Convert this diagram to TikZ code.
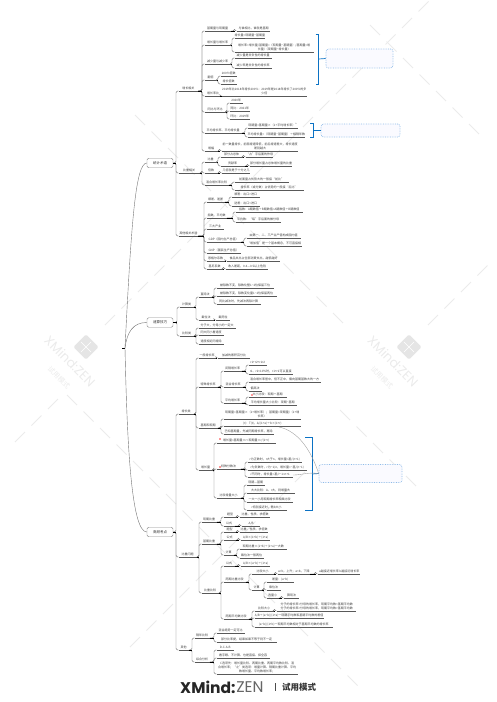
\documentclass[tikz,border=0pt]{standalone}
\usepackage{fontspec}
\setmainfont{Noto Sans CJK SC}
\newfontfamily\brandfont{Poppins}
\usetikzlibrary{positioning,arrows.meta}
\definecolor{markblue}{HTML}{0B72C4}
\definecolor{noteblue}{HTML}{8FBBE8}

\begin{document}
\begin{tikzpicture}[
  x=1pt, y=-1pt,
  font=\fontsize{3}{3.8}\selectfont,
  topic/.style={anchor=south west, inner xsep=0pt, inner ysep=1.1pt, align=center, text=black!75,
                append after command={(\tikzlastnode.south west) edge[draw=black!65, line width=0.45pt] (\tikzlastnode.south east)}},
  branch/.style={rectangle, rounded corners=1.5pt, draw=black!45, line width=0.4pt, fill=white,
                 minimum width=26pt, minimum height=9.5pt, inner sep=0pt, text=black!80,
                 font=\fontsize{3.5}{4}\selectfont},
  edge/.style={draw=black!55, line width=0.4pt, rounded corners=1.5pt},
  stub/.style={draw=black, line width=0.6pt},
  flag/.style={rectangle, fill=red!40, minimum size=2pt, inner sep=0pt},
  note/.style={rectangle, rounded corners=2.5pt, draw=noteblue, densely dotted, line width=0.7pt, fill=blue!2},
  brace/.style={draw=markblue, line width=0.7pt},
  rel/.style={draw=black!40, line width=0.35pt},
  wmark/.style={draw=black!8, line width=0.8pt}
]
\useasboundingbox (0,0) rectangle (497,702);

% watermark
\foreach \k/\xa/\xb in {-20/135/345, 328/67/350, -345/370/480, 70/340/420} {
  \foreach \u in {0,16.5,...,330} {
    \pgfmathparse{\xa+\u<=\xb ? 1 : 0}
    \ifnum\pgfmathresult=1 \draw[wmark] ({\xa+\u},{\xa+\u+\k}) -- ++(10,10); \fi
  }
}
\foreach \k/\xa/\xb in {430/105/420, 753/428/480, 777/130/300, 457/15/60} {
  \foreach \u in {0,16.5,...,330} {
    \pgfmathparse{\xa+\u<=\xb ? 1 : 0}
    \ifnum\pgfmathresult=1 \draw[wmark] ({\xa+\u},{\k-\xa-\u}) -- ++(10,-10); \fi
  }
}
\foreach \lx in {86,409} {
  \node[rectangle, rounded corners=1.5pt, fill=black!10, minimum size=18pt, rotate=45] at (\lx,347) {};
  \draw[white, line width=0.5pt] ({\lx-5},342) -- ({\lx+5},352) ({\lx-5},352) -- ({\lx+5},342);
  \node[text=black!8, rotate=-45, font=\brandfont\fontsize{13}{13}\selectfont] at ({\lx-16},361) {XMind:ZEN};
  \node[text=black!8, rotate=-45, font=\fontsize{7}{7}\selectfont] at ({\lx-27},378) {试用模式};
}

\coordinate (root) at (125,348);
\node[branch] (a) at (160,163) {统计术语};
\node[branch] (b) at (160,322.5) {速算技巧};
\node[branch] (c) at (160,532) {高频考点};

% 统计术语
\node[topic, minimum width=19.5pt] (a1) at (178.5,91) {增长相关};
\node[topic, minimum width=26pt] (a11) at (204.5,31) {基期量与现期量};
\node[topic, minimum width=33pt] (a111) at (237,31) {与谁相比，谁就是基期};
\node[topic, minimum width=26pt] (a12) at (204.5,45) {增长量与增长率};
\node[topic, minimum width=29pt] (a121) at (234.5,38) {增长量=现期量−基期量};
\node[topic, minimum width=79pt] (a122) at (234.5,52) {增长率=增长量/基期量=（现期量−基期量）/基期量=增\\长量/（现期量−增长量）};
\node[topic, minimum width=26pt] (a13) at (204.5,64) {减少量与减少率};
\node[topic, minimum width=37pt] (a131) at (234.5,58) {减少量是非负性的增长量};
\node[topic, minimum width=37pt] (a132) at (234.5,68) {减少率是非负性的增长率};
\node[topic, minimum width=12pt] (a14) at (204.5,80) {翻倍};
\node[topic, minimum width=16pt] (a141) at (220.5,76) {200\%倍数};
\node[topic, minimum width=16pt] (a142) at (220.5,84) {增长倍数};
\node[topic, minimum width=17pt] (a15) at (204.5,96) {增长率比};
\node[topic, minimum width=83pt] (a151) at (222,96) {2019年比2018年增长200\%：2019年是2018年增长了200\%的多\\少倍};
\node[topic, minimum width=21pt] (a16) at (204.5,112) {同比与环比};
\node[topic, minimum width=13pt] (a161) at (229.5,103) {2020年};
\node[topic, minimum width=20pt] (a162) at (229.5,111) {同比：2021年};
\node[topic, minimum width=20pt] (a163) at (229.5,119) {环比：2019年};
\node[topic, minimum width=37pt] (a17) at (204.5,133) {平均增长率、平均增长量};
\node[topic, minimum width=50pt] (a171) at (247.5,128) {现期量=基期量×（1+平均增长率）\textsuperscript{n}};
\node[topic, minimum width=52pt] (a172) at (247.5,137) {平均增长量=（现期量−基期量）÷相隔年数};
\node[topic, minimum width=13pt] (a18) at (204.5,151) {增幅};
\node[topic, minimum width=76pt] (a181) at (222,151) {前一数量增长，前面增速降低，前后增速差大，增长速度\\差别越大};
\node[topic, minimum width=21pt] (a2) at (178.5,173) {比重相关};
\node[topic, minimum width=12pt] (a21) at (204.5,162) {比重};
\node[topic, minimum width=22pt] (a211) at (220.5,157) {部分占总体};
\node[topic, minimum width=26pt] (a2111) at (246,157) {“占”字后面的作母};
\node[topic, minimum width=24pt] (a212) at (220.5,166) {贡献率};
\node[topic, minimum width=34pt] (a2121) at (250,166) {部分增长量占总体增长量的比重};
\node[topic, minimum width=13pt] (a22) at (204.5,173) {倍数};
\node[topic, minimum width=28pt] (a221) at (222,173) {几倍就是于十分之几};
\node[topic, minimum width=24pt] (a23) at (204.5,185) {混合增长率比较};
\node[topic, minimum width=54pt] (a231) at (234.5,182) {前面量占优势大的一般接“前比”};
\node[topic, minimum width=69pt] (a232) at (234.5,190) {增长率（或分数）占优势的一般接“后比”};
\node[topic, minimum width=19.5pt] (a3) at (178.5,236) {其他相关术语};
\node[topic, minimum width=18pt] (a31) at (206.5,202) {顺差、逆差};
\node[topic, minimum width=28pt] (a311) at (231.5,197) {顺差：出口>进口};
\node[topic, minimum width=28pt] (a312) at (231.5,206) {逆差：出口<进口};
\node[topic, minimum width=20pt] (a32) at (206.5,218) {指数、平均数};
\node[topic, minimum width=67pt] (a321) at (235.5,212) {指数：A期数值÷B期数值=A期数值÷B期数值};
\node[topic, minimum width=45pt] (a322) at (235.5,222) {平均数：“每”字后面的做分母};
\node[topic, minimum width=17pt] (a33) at (206.5,229) {三大产业};
\node[topic, minimum width=34pt] (a34) at (206.5,242) {GDP（国内生产总值）};
\node[topic, minimum width=54pt] (a341) at (246.5,238) {由第一、二、三产业产值构成国内值};
\node[topic, minimum width=55pt] (a342) at (246.5,246) {“增加值”是一个基本概念，不可直接相};
\node[topic, minimum width=34pt] (a35) at (206.5,253) {GNP（国民生产总值）};
\node[topic, minimum width=18pt] (a36) at (206.5,261) {恩格尔系数};
\node[topic, minimum width=53pt] (a361) at (227,261) {食品支出占全部消费支出，越低越好};
\node[topic, minimum width=16pt] (a37) at (206.5,269) {基尼系数};
\node[topic, minimum width=42pt] (a371) at (226,269) {收入差距，0.4—0.5以上危险};

% 速算技巧
\node[topic, minimum width=14pt] (b1) at (179.5,307) {计算类};
\node[topic, minimum width=13pt] (b11) at (198.5,297) {直除法};
\node[topic, minimum width=57pt] (b111) at (216.5,288) {被除数不变，除数化整1\textasciitilde2位保留三位};
\node[topic, minimum width=60pt] (b112) at (216.5,296) {被除数不变，除数变化量1\textasciitilde2位保留两位};
\node[topic, minimum width=44pt] (b113) at (216.5,304) {同比减法时，先减法再除计算};
\node[topic, minimum width=15pt] (b12) at (198.5,320) {截位法};
\node[topic, minimum width=14pt] (b121) at (216,320) {截两位};
\node[topic, minimum width=14pt] (b2) at (179.5,336) {比较类};
\node[topic, minimum width=37pt] (b21) at (198.5,328) {分子大，分母小的一定大};
\node[topic, minimum width=25pt] (b22) at (198.5,335) {同大同小看速度};
\node[topic, minimum width=25pt] (b23) at (198.5,344) {速度相近同增除};

% 高频考点
\node[topic, minimum width=15pt] (c1) at (178.5,414) {增长类};
\node[topic, minimum width=17pt] (c11) at (198.5,358) {一般增长率};
\node[topic, minimum width=32pt] (c111) at (218,358) {加减的累积百分比};
\node[topic, minimum width=19pt] (c12) at (198.5,387) {特殊增长率};
\node[topic, minimum width=18pt] (c121) at (223.5,371) {间隔增长率};
\node[topic, minimum width=18pt] (c1211) at (248.5,365) {r1+r2+r1r2};
\node[topic, minimum width=44pt] (c1212) at (248.5,374) {r1、r2<10\%时，r1+r2可以直接};
\node[topic, minimum width=19pt] (c122) at (223.5,387) {混合增长率};
\node[topic, minimum width=72pt] (c1221) at (248.5,382) {混合增长率居中，但不正中，偏向基期基数大的一方};
\node[topic, minimum width=13pt] (c1222) at (248.5,391) {偏高法};
\node[topic, minimum width=18pt] (c123) at (223.5,403) {平均增长率};
\node[topic, minimum width=38pt] (c1231) at (248.5,397) {大小比较：现期÷基期};
\node[topic, minimum width=48pt] (c1232) at (248.5,405) {平均增长量大小比较：现期−基期};
\node[topic, minimum width=19pt] (c13) at (198.5,428) {基期和现期};
\node[topic, minimum width=77pt] (c131) at (223.5,419) {现期量=基期量×（1+增长率）；基期量=现期量/（1+增\\长率）};
\node[topic, minimum width=77pt] (c132) at (223.5,426) {(r)：T(t)，Δ/(1+a)÷b×(1+r)};
\node[topic, minimum width=50pt] (c133) at (223.5,434) {已知基期量，先减同期增长率，再除};
\node[topic, minimum width=14pt] (c14) at (198.5,470) {增长量};
\node[topic, minimum width=59pt] (c141) at (216.5,443) {增长量=基期量×r=现期量×r/(1+r)};
\node[topic, minimum width=24pt] (c142) at (216.5,469) {特殊分数法};
\node[topic, minimum width=54pt] (c1421) at (247.5,462) {r为正数时，r大于n，增长量=基/(n+1)};
\node[topic, minimum width=59pt] (c1422) at (247.5,470) {r为负数时，r为−1/n，增长量=−基/(n−1)};
\node[topic, minimum width=45pt] (c1423) at (247.5,477) {r不同时，增长量=基/r−1=n+1};
\node[topic, minimum width=24pt] (c143) at (216.5,498) {比较增量大小};
\node[topic, minimum width=18pt] (c1431) at (246.5,485) {现期—基期};
\node[topic, minimum width=48pt] (c1432) at (246.5,493) {大大比较：A、r大，则增量大};
\node[topic, minimum width=46pt] (c1433) at (246.5,502) {一大一小用现期增长率相乘比较};
\node[topic, minimum width=40pt] (c1434) at (246.5,510) {r特别接近时，看b大小};
\node[topic, minimum width=18pt] (c2) at (178.5,557) {比重问题};
\node[topic, minimum width=15pt] (c21) at (201.5,522) {现期比重};
\node[topic, minimum width=13pt] (c211) at (223.5,517) {题型};
\node[topic, minimum width=30pt] (c2111) at (240,517) {比重、性质、求倍数};
\node[topic, minimum width=11pt] (c212) at (223.5,526) {公式};
\node[topic, minimum width=18pt] (c2121) at (242,526) {A/B};
\node[topic, minimum width=15pt] (c22) at (201.5,544) {基期比重};
\node[topic, minimum width=12pt] (c221) at (223.5,532) {题型};
\node[topic, minimum width=28pt] (c2211) at (240,532) {比重、性质、求倍数};
\node[topic, minimum width=12pt] (c222) at (223.5,540) {公式};
\node[topic, minimum width=29pt] (c2221) at (241,540) {A/B×(1+b)÷(1+a)};
\node[topic, minimum width=10pt] (c223) at (223.5,555) {计算};
\node[topic, minimum width=47pt] (c2231) at (239.5,549) {现期比重×(1+b)÷(1+a)一大数};
\node[topic, minimum width=24pt] (c2232) at (239.5,558) {截位法一般两位};
\node[topic, minimum width=17pt] (c23) at (201.5,593) {比重比较};
\node[topic, minimum width=11pt] (c231) at (223.5,566) {公式};
\node[topic, minimum width=29pt] (c2311) at (241,566) {A/B×(a−b)÷(1+a)};
\node[topic, minimum width=22pt] (c232) at (223.5,582) {两期比重比较};
\node[topic, minimum width=22pt] (c2321) at (251.5,574) {比较大小};
\node[topic, minimum width=31pt] (c23211) at (278,574) {a>b，上升；a<b，下降};
\node[topic, minimum width=42pt] (c232111) at (318,574) {a越接近增长率 b越接近增长率};
\node[topic, minimum width=10pt] (c2322) at (251.5,590) {计算};
\node[topic, minimum width=27pt] (c23221) at (266.5,582) {差量：(a−b)};
\node[topic, minimum width=14pt] (c23222) at (266.5,590) {乘位法};
\node[topic, minimum width=12pt] (c23223) at (266.5,598) {选量小};
\node[topic, minimum width=15pt] (c232231) at (284,598) {算现法};
\node[topic, minimum width=25pt] (c233) at (223.5,619) {两期平均数比较};
\node[topic, minimum width=19pt] (c2331) at (254.5,611) {比较大小};
\node[topic, minimum width=79pt] (c23311) at (277,611) {分子的增长率<分母的增长率，现期平均数<基期平均数\\分子的增长率>分母的增长率，现期平均数>基期平均数};
\node[topic, minimum width=69pt] (c2332) at (254.5,618) {A/B÷(a−b)/(1+a)一现期平均数和基期平均数的差值};
\node[topic, minimum width=78pt] (c2333) at (254.5,627) {(a−b)/(1+b)一现期平均数相对于基期平均数的增长率};
\node[topic, minimum width=10pt] (c3) at (178.5,650) {其他};
\node[topic, minimum width=15pt] (c31) at (194.5,638) {隔年比较};
\node[topic, minimum width=28pt] (c311) at (216.5,633) {混合趋势一定可比};
\node[topic, minimum width=60pt] (c312) at (216.5,642) {部分比率提，结果如果不等于则不一定};
\node[topic, minimum width=15pt] (c32) at (194.5,662) {综合分析};
\node[topic, minimum width=17pt] (c321) at (216.5,650) {D-C-A-B};
\node[topic, minimum width=53pt] (c322) at (216.5,658) {看字眼、不计算、也是直接、择全容};
\node[topic, minimum width=81pt] (c323) at (216.5,674) {C选项先：增长量比较、两期比重、两期平均数比较、混\\合增长率；“之”类选项：增量计算、隔期比重计算、平均\\数增长量、平均数增长率；};

\node[flag] (f1) at (252,395) {};
\node[flag] (f2) at (220,439) {};
\node[flag] (f3) at (220,467) {};

% connectors
\draw[stub] (122,348) -- (root);
\draw[edge] (root) .. controls (131,230) and (135,163) .. (a.west);
\draw[edge] (root) .. controls (127,332) and (133,322.5) .. (b.west);
\draw[edge] (root) .. controls (127,440) and (131,532) .. (c.west);
\foreach \p/\q in {a/a1, a/a2, a/a3, b/b1, b/b2, c/c1, c/c2, c/c3} {
  \draw[edge] (\p.east) -| ([xshift=-2.5pt]\q.south west) -- (\q.south west);
}
\foreach \p/\q in {a/a1, b/b1, c/c1} {
  \draw[stub] (\p.east) -- ([xshift=-2.5pt]\q.south west |- \p.east);
}
\foreach \p/\q in {a1/a11, a1/a12, a1/a13, a1/a14, a1/a15, a1/a16, a1/a17, a1/a18, a11/a111, a12/a121, a12/a122,
    a13/a131, a13/a132, a14/a141, a14/a142, a15/a151, a16/a161, a16/a162, a16/a163, a17/a171, a17/a172, a18/a181,
    a2/a21, a2/a22, a2/a23, a21/a211, a21/a212, a211/a2111, a212/a2121, a22/a221, a23/a231, a23/a232,
    a3/a31, a3/a32, a3/a33, a3/a34, a3/a35, a3/a36, a3/a37, a31/a311, a31/a312, a32/a321, a32/a322,
    a34/a341, a34/a342, a36/a361, a37/a371,
    b1/b11, b1/b12, b11/b111, b11/b112, b11/b113, b12/b121, b2/b21, b2/b22, b2/b23,
    c1/c11, c1/c12, c1/c13, c1/c14, c11/c111, c12/c121, c12/c122, c12/c123, c121/c1211, c121/c1212,
    c122/c1221, c122/c1222, c123/c1231, c123/c1232, c13/c131, c13/c132, c13/c133, c14/c141, c14/c142, c14/c143,
    c142/c1421, c142/c1422, c142/c1423, c143/c1431, c143/c1432, c143/c1433, c143/c1434,
    c2/c21, c2/c22, c2/c23, c21/c211, c21/c212, c211/c2111, c212/c2121, c22/c221, c22/c222, c22/c223,
    c221/c2211, c222/c2221, c223/c2231, c223/c2232, c23/c231, c23/c232, c23/c233, c231/c2311, c232/c2321, c232/c2322,
    c2321/c23211, c23211/c232111, c2322/c23221, c2322/c23222, c2322/c23223, c23223/c232231,
    c233/c2331, c233/c2332, c233/c2333, c2331/c23311,
    c3/c31, c3/c32, c31/c311, c31/c312, c32/c321, c32/c322, c32/c323} {
  \draw[edge] (\p.south east) -| ([xshift=-2.5pt]\q.south west) -- (\q.south west);
  \draw[stub] (\p.south east) -- ([xshift=-2.5pt]\q.south west |- \p.south east);
}

% summaries
\node[note, minimum width=67pt, minimum height=19pt] (n1) at (359.5,58.5) {};
\node[note, minimum width=79pt, minimum height=13pt] (n2) at (360.5,130.5) {};
\node[note, minimum width=83pt, minimum height=18pt] (n3) at (360.5,473.5) {};
\draw[brace] (315.7,34) -- (318.7,34) -- (318.7,84) -- (315.7,84);
\draw[brace] (318.7,59) -- (n1.west);
\draw[brace] (310,123) -- (313,123) -- (313,137) -- (310,137);
\draw[brace] (313,130.5) -- (n2.west);
\draw[brace] (305,437) -- (312,437) -- (312,510) -- (305,510);
\draw[brace] (312,474) -- (n3.west);
\coordinate (r1) at (279,427);
\coordinate (r2) at (293,475);
\draw[rel] (r1) .. controls (298,431) and (311,450) .. (n3.west);
\draw[rel] (r2) .. controls (302,475) and (308,472) .. (n3.west);

% trial mode mark
\node[anchor=west, inner sep=0pt, text=black!85, font=\brandfont\bfseries\fontsize{15.5}{16}\selectfont] (xm) at (180,687) {XMind:};
\node[anchor=west, inner sep=0pt, text=black!60, font=\brandfont\fontsize{15.5}{16}\selectfont, right=0.5pt of xm] (zen) {ZEN};
\node[anchor=west, inner sep=0pt, text=black!80, font=\fontsize{8.5}{9}\selectfont\bfseries] (trial) at (282,687) {试用模式};
\draw[black!70, line width=0.7pt] (275,683) -- (275,691);
\end{tikzpicture}
\end{document}
